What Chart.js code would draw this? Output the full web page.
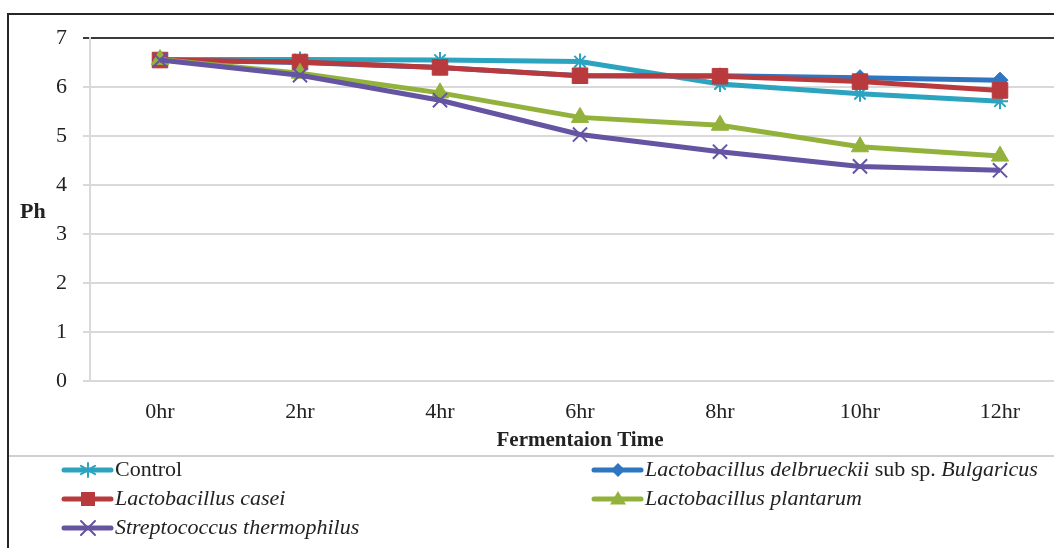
<!DOCTYPE html>
<html>
<head>
<meta charset="utf-8">
<script src="https://cdn.jsdelivr.net/npm/chart.js@4/dist/chart.umd.min.js"></script>
<style>
  html, body { margin:0; padding:0; background:#fff; overflow:hidden; }
  #wrap { position:relative; width:1100px; height:548px; }
</style>
</head>
<body>
<div id="wrap"><canvas id="c" width="1100" height="548"></canvas></div>
<script>
// ---- data ----
const hours = ['0hr', '2hr', '4hr', '6hr', '8hr', '10hr', '12hr'];
const control    = [6.56, 6.56, 6.55, 6.52, 6.06, 5.86, 5.71];
const bulgaricus = [6.55, 6.50, 6.40, 6.23, 6.23, 6.19, 6.14];
const casei      = [6.55, 6.51, 6.40, 6.23, 6.22, 6.11, 5.93];
const plantarum  = [6.56, 6.28, 5.88, 5.38, 5.22, 4.78, 4.59];
const strepto    = [6.55, 6.24, 5.73, 5.03, 4.68, 4.38, 4.30];
const yTicks = [0, 1, 2, 3, 4, 5, 6, 7];

const seriesNames = ['Control', 'Lactobacillus delbrueckii sub sp. Bulgaricus',
  'Lactobacillus casei', 'Lactobacillus plantarum', 'Streptococcus thermophilus'];
// legend text pieces: [text, italic]
const legendParts = [
  [['Control', false]],
  [['Lactobacillus delbrueckii', true], [' sub sp. ', false], ['Bulgaricus', true]],
  [['Lactobacillus casei', true]],
  [['Lactobacillus plantarum', true]],
  [['Streptococcus thermophilus', true]]
];

const FONT = "'Liberation Serif', 'Times New Roman', serif";
const colors = ['#2ca4c0', '#2f76c0', '#b93a3d', '#93b23b', '#6454a2'];
const styles = ['star', 'rectRot', 'rect', 'triangle', 'crossRot'];
const radii = [8, 8, 11, 10, 10];

function mkSet(i, data) {
  const cross = styles[i] === 'star' || styles[i] === 'crossRot';
  return {
    label: seriesNames[i], data,
    borderColor: colors[i], backgroundColor: colors[i],
    borderWidth: 5, pointStyle: styles[i], pointRadius: radii[i],
    pointBorderWidth: cross ? 2 : 1, pointBorderColor: colors[i],
    tension: 0, order: 4 - i
  };
}

// ---- frame, Ph label, legend ----
function drawMarker(ctx, style, x, y, r, col) {
  ctx.save();
  ctx.fillStyle = col; ctx.strokeStyle = col; ctx.lineWidth = 2;
  ctx.beginPath();
  if (style === 'rect') {
    ctx.fillRect(x - r, y - r, 2 * r, 2 * r);
  } else if (style === 'rectRot') {
    ctx.moveTo(x, y - r); ctx.lineTo(x + r, y); ctx.lineTo(x, y + r); ctx.lineTo(x - r, y); ctx.closePath(); ctx.fill();
  } else if (style === 'triangle') {
    ctx.moveTo(x, y - r); ctx.lineTo(x + r, y + r * 0.7); ctx.lineTo(x - r, y + r * 0.7); ctx.closePath(); ctx.fill();
  } else if (style === 'crossRot') {
    ctx.moveTo(x - r, y - r); ctx.lineTo(x + r, y + r); ctx.moveTo(x + r, y - r); ctx.lineTo(x - r, y + r); ctx.stroke();
  } else {
    ctx.moveTo(x, y - r); ctx.lineTo(x, y + r);
    ctx.moveTo(x - r, y - r * 0.6); ctx.lineTo(x + r, y + r * 0.6);
    ctx.moveTo(x + r, y - r * 0.6); ctx.lineTo(x - r, y + r * 0.6); ctx.stroke();
  }
  ctx.restore();
}

const legendR = [7, 7, 7, 8, 7];

const extras = {
  id: 'extras',
  beforeDraw(chart) {
    const ctx = chart.ctx, W = chart.width;
    ctx.save();
    ctx.strokeStyle = '#262626'; ctx.lineWidth = 2;
    ctx.beginPath();
    ctx.moveTo(8, 548); ctx.lineTo(8, 14); ctx.lineTo(W, 14);
    ctx.stroke();
    ctx.strokeStyle = '#d0d0d0'; ctx.lineWidth = 2;
    ctx.beginPath(); ctx.moveTo(9, 456); ctx.lineTo(W, 456); ctx.stroke();
    ctx.restore();
  },
  afterDraw(chart) {
    const ctx = chart.ctx;
    ctx.save();
    ctx.fillStyle = '#222';
    ctx.font = 'bold 22px ' + FONT;
    ctx.textBaseline = 'middle'; ctx.textAlign = 'left';
    ctx.fillText('Ph', 20, 212);

    const pos = [[62, 470], [592, 470], [62, 499], [592, 499], [62, 528]];
    legendParts.forEach((parts, i) => {
      const [lx, ly] = pos[i];
      ctx.strokeStyle = colors[i]; ctx.lineWidth = 5; ctx.lineCap = 'round';
      ctx.beginPath(); ctx.moveTo(lx + 2, ly); ctx.lineTo(lx + 49, ly); ctx.stroke();
      drawMarker(ctx, styles[i], lx + 26, ly, legendR[i], colors[i]);
      let tx = lx + 53;
      ctx.fillStyle = '#222';
      parts.forEach(([t, it]) => {
        ctx.font = (it ? 'italic ' : '') + '22px ' + FONT;
        ctx.fillText(t, tx, ly);
        tx += ctx.measureText(t).width;
      });
    });
    ctx.restore();
  }
};

new Chart(document.getElementById('c'), {
  type: 'line',
  data: {
    labels: hours,
    datasets: [mkSet(0, control), mkSet(1, bulgaricus), mkSet(2, casei), mkSet(3, plantarum), mkSet(4, strepto)]
  },
  plugins: [extras],
  options: {
    responsive: false,
    animation: false,
    layout: { padding: { left: 0, right: 30, top: 38, bottom: 95 } },
    plugins: { legend: { display: false }, tooltip: { enabled: false } },
    scales: {
      x: {
        offset: true,
        grid: { display: false, drawTicks: false },
        border: { display: false },
        ticks: { color: '#222', padding: 18, font: { family: FONT, size: 22 } },
        title: { display: true, text: 'Fermentaion Time', color: '#222', padding: { top: 0, bottom: 0 },
                 font: { family: FONT, size: 21, weight: 'bold' } },
        afterFit(s) { s.height = 72; }
      },
      y: {
        min: 0, max: 7,
        afterBuildTicks(s) { s.ticks = yTicks.map(v => ({ value: v })); },
        grid: {
          color: c => c.tick && c.tick.value === 7 ? '#3a3a3a' : '#d9d9d9',
          tickColor: c => c.tick && c.tick.value === 7 ? '#3a3a3a' : '#d9d9d9',
          lineWidth: 2, tickLength: 7
        },
        border: { color: '#d9d9d9', width: 2 },
        ticks: { color: '#222', padding: 16, font: { family: FONT, size: 22 } },
        afterFit(s) { s.width = 90; }
      }
    }
  }
});
</script>
</body>
</html>
